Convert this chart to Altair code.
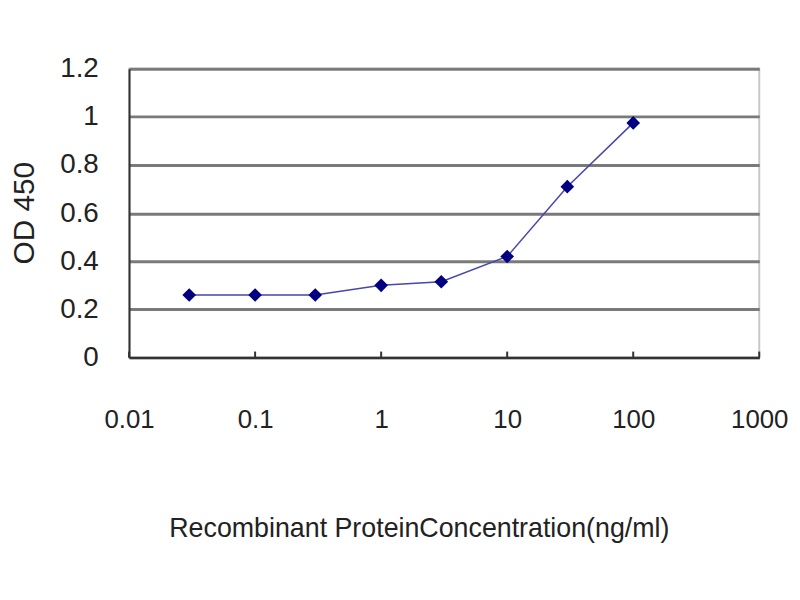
import altair as alt
import pandas as pd

conc = [0.03, 0.1, 0.3, 1, 3, 10, 30, 100]
od = [0.26, 0.26, 0.26, 0.30, 0.315, 0.42, 0.71, 0.975]
x_ticks = [0.01, 0.1, 1, 10, 100, 1000]
y_ticks = [0, 0.2, 0.4, 0.6, 0.8, 1.0, 1.2]
x_title = "Recombinant ProteinConcentration(ng/ml)"
y_title = "OD 450"

df = pd.DataFrame({"conc": conc, "od": od})
tick_df = pd.DataFrame({"t": x_ticks})

FONT = "Liberation Sans"
xscale = alt.Scale(type="log", domain=[0.01, 1000])
yscale = alt.Scale(domain=[0, 1.2])

x_enc = alt.X(
    "conc:Q", scale=xscale,
    axis=alt.Axis(values=x_ticks, format="~g", title=x_title, grid=False, ticks=False,
                  labelFontSize=26, labelFont=FONT, labelColor="#222", labelPadding=49,
                  labelFlush=False, titleFont=FONT, titleFontSize=27, titleFontWeight="normal",
                  titleColor="#222", titlePadding=84, titleX=292, titleAlign="center",
                  domainColor="#333", domainWidth=2),
)
y_enc = alt.Y(
    "od:Q", scale=yscale,
    axis=alt.Axis(values=y_ticks, format="~g", title=y_title, grid=True, gridColor="#7a7a7a",
                  gridWidth=3, ticks=False, labelFontSize=28, labelFont=FONT, labelColor="#222",
                  labelPadding=31, titleFont=FONT, titleFontSize=30, titleFontWeight="normal",
                  titleColor="#222", titleAngle=-90, titleX=-105, titleY=145,
                  titleAlign="center", titleBaseline="middle",
                  domainColor="#333", domainWidth=2),
)

line = alt.Chart(df).mark_line(color="#4646b0", strokeWidth=1.5).encode(x=x_enc, y=y_enc)
pts = alt.Chart(df).mark_point(shape="diamond", filled=True, color="#000080", size=190, opacity=1).encode(
    x=alt.X("conc:Q", scale=xscale), y=alt.Y("od:Q", scale=yscale))
ticks = alt.Chart(tick_df).mark_rule(color="#333", strokeWidth=2).encode(
    x=alt.X("t:Q", scale=xscale), y=alt.value(291), y2=alt.value(285))

chart = alt.layer(line, ticks, pts).properties(
    width=635, height=291, autosize="none",
    padding={"left": 122, "top": 59, "right": 33, "bottom": 230},
    background="white",
).configure_view(stroke="#c8c8c8", strokeWidth=2)

chart.save("out.html", embed_options={"renderer": "svg", "actions": False})
